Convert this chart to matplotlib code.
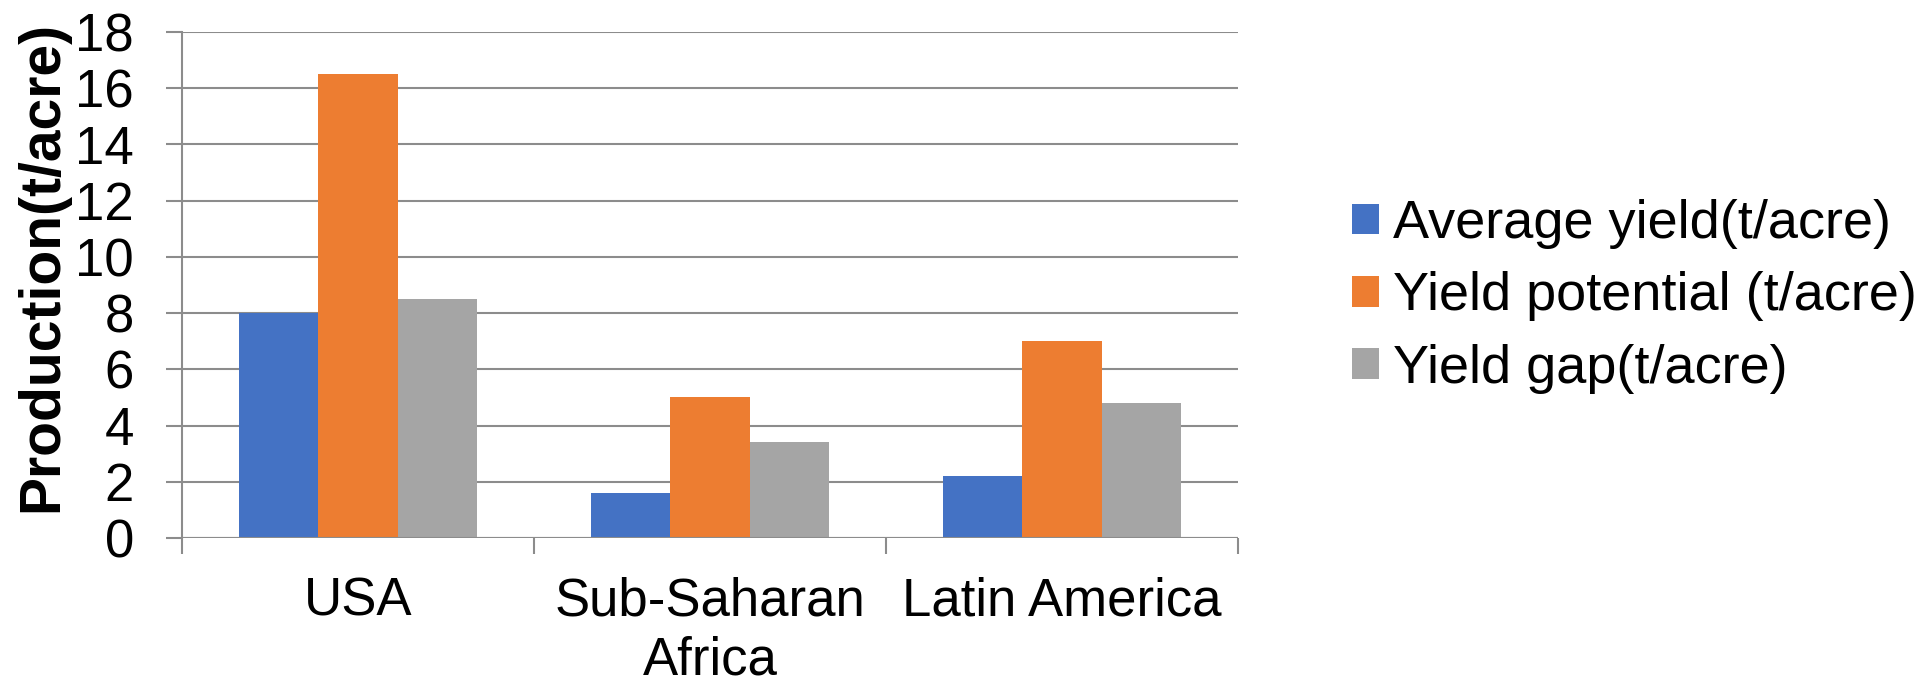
import numpy as np
import matplotlib.pyplot as plt

plt.rcParams['font.family'] = ['Liberation Sans', 'DejaVu Sans']

# Data
regions = ['USA', 'Sub-Saharan\nAfrica', 'Latin America']
average_yield = [8.0, 1.6, 2.2]
yield_potential = [16.5, 5.0, 7.0]
yield_gap = [8.5, 3.4, 4.8]
series_names = ['Average yield(t/acre)', 'Yield potential (t/acre)', 'Yield gap(t/acre)']
colors = ['#4472C4', '#ED7D31', '#A5A5A5']
line_gray = '#8C8C8C'

fig = plt.figure(figsize=(19.27, 6.83), dpi=100)
ax = fig.add_axes([182 / 1927, 1 - 538 / 683, (1238 - 182) / 1927, (538 - 32) / 683])

x = np.arange(len(regions))
w = 0.225
for i, (vals, name) in enumerate(zip([average_yield, yield_potential, yield_gap], series_names)):
    ax.bar(x + (i - 1) * w, vals, width=w, color=colors[i], label=name, zorder=3)

ax.set_xlim(-0.5, 2.5)
ax.set_ylim(0, 18)
ax.set_yticks(np.arange(0, 19, 2))
ax.yaxis.grid(True, color=line_gray, linewidth=1.5, zorder=0)

for s in ['top', 'right', 'bottom']:
    ax.spines[s].set_visible(False)
ax.spines['left'].set_color(line_gray)
ax.spines['left'].set_linewidth(1.5)
ax.axhline(0, color=line_gray, linewidth=1.5, zorder=4)

ax.tick_params(axis='y', length=11.5, width=1.5, color=line_gray, pad=23, labelsize=38)
ax.set_xticks(x)
ax.set_xticklabels(regions, fontsize=38, linespacing=1.22)
ax.set_xticks([-0.5, 0.5, 1.5, 2.5], minor=True)
ax.tick_params(axis='x', which='major', length=0, pad=28)
ax.tick_params(axis='x', which='minor', length=11.5, width=1.5, color=line_gray)

fig.text(42 / 1927, 1 - 266 / 683, 'Production(t/acre)', rotation=90, fontsize=41,
         fontweight='bold', ha='center', va='center')

ax.legend(loc='center left', bbox_to_anchor=(1352 / 1927, 1 - 296.5 / 683),
          bbox_transform=fig.transFigure, frameon=False, fontsize=39,
          handlelength=0.5, handleheight=0.5, handletextpad=0.26,
          labelspacing=0.41, borderpad=0, borderaxespad=0)

fig.savefig('out.png', dpi=100)
